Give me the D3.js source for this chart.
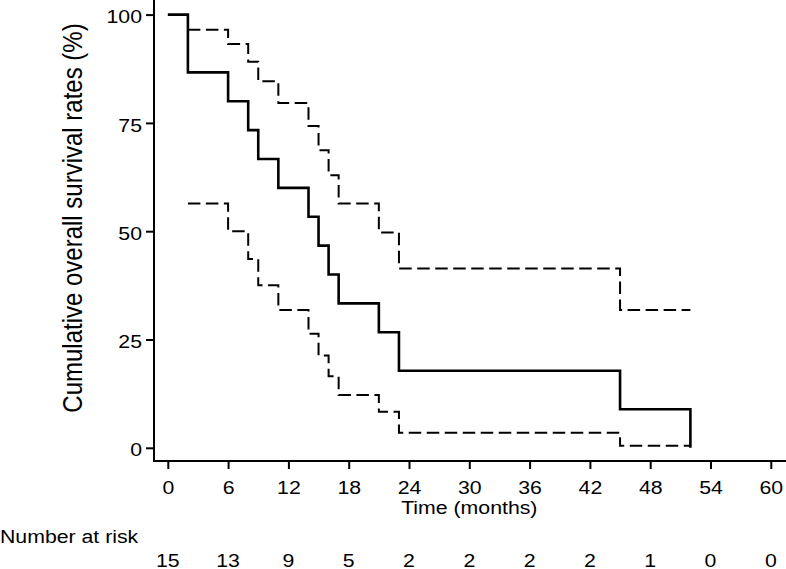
<!DOCTYPE html>
<html>
<head>
<meta charset="utf-8">
<script src="https://cdn.jsdelivr.net/npm/d3@7"></script>
<style>
  html, body { margin: 0; padding: 0; background: #fff; }
  svg { display: block; }
  text { font-family: "Liberation Sans", Arial, Helvetica, sans-serif; fill: #000; }
</style>
</head>
<body>
<svg id="chart" width="786" height="569"></svg>
<script>
// ---- data ----
const kmTimes    = [0, 2, 6, 8, 9, 11, 14, 15, 16, 17, 21, 23, 45, 52];
const kmSurvival = [100, 86.67, 80, 73.33, 66.67, 60, 53.33, 46.67, 40, 33.33, 26.67, 17.78, 8.89, 0];

const ciTimes = [2, 6, 8, 9, 11, 14, 15, 16, 17, 21, 23, 45, 52];
const ciUpper = [96.5, 93.2, 89.1, 84.6, 79.6, 74.3, 68.7, 62.9, 56.4, 49.7, 41.4, 31.8, 31.8];
const ciLower = [56.4, 50.0, 43.6, 37.5, 31.8, 26.3, 21.3, 16.5, 12.2, 8.3, 3.5, 0.5, 0.5];

const xTicks = [0, 6, 12, 18, 24, 30, 36, 42, 48, 54, 60];
const yTicks = [0, 25, 50, 75, 100];
const atRisk = [15, 13, 9, 5, 2, 2, 2, 2, 1, 0, 0];

const yTitle = "Cumulative overall survival rates (%)";
const xTitle = "Time (months)";
const riskTitle = "Number at risk";

// ---- layout ----
const svg = d3.select("#chart");
const SX = 1.12; // horizontal text stretch seen in the reference
const x = d3.scaleLinear().domain([0, 60]).range([167.8, 770.8]);
const y = d3.scaleLinear().domain([0, 100]).range([447.8, 14.6]);
const axisX0 = 154, axisY0 = 461;

// axis lines
svg.append("line").attr("x1", axisX0).attr("x2", axisX0).attr("y1", 0).attr("y2", axisY0 + 1)
  .attr("stroke", "#000").attr("stroke-width", 2);
svg.append("line").attr("x1", axisX0 - 1).attr("x2", 786).attr("y1", axisY0).attr("y2", axisY0)
  .attr("stroke", "#000").attr("stroke-width", 2);

// x axis ticks
const xAxis = d3.axisBottom(x).tickValues(xTicks).tickSize(8).tickPadding(0).tickSizeOuter(0);
const gx = svg.append("g").attr("transform", `translate(0,${axisY0})`).call(xAxis);
gx.select(".domain").remove();
gx.selectAll(".tick line").attr("stroke", "#000").attr("stroke-width", 2);
gx.selectAll(".tick text")
  .attr("y", 33).attr("dy", null)
  .attr("transform", `scale(${SX},1)`)
  .style("font-size", "19px").style("font-family", '"Liberation Sans", Arial, sans-serif')
  .attr("fill", "#000");

// y axis ticks
const yAxis = d3.axisLeft(y).tickValues(yTicks).tickSize(8).tickPadding(0).tickSizeOuter(0);
const gy = svg.append("g").attr("transform", `translate(${axisX0},0)`).call(yAxis);
gy.select(".domain").remove();
gy.selectAll(".tick line").attr("stroke", "#000").attr("stroke-width", 2);
gy.selectAll(".tick text")
  .attr("x", -12 / SX).attr("dy", "0.43em")
  .attr("transform", `scale(${SX},1)`)
  .style("font-size", "19px").style("font-family", '"Liberation Sans", Arial, sans-serif')
  .attr("fill", "#000");

// curves
const stepLine = d3.line().curve(d3.curveStepAfter).x(d => x(d[0])).y(d => y(d[1]));

svg.append("path")
  .datum(ciTimes.map((t, i) => [t, ciUpper[i]]))
  .attr("d", stepLine).attr("fill", "none").attr("stroke", "#000")
  .attr("stroke-width", 2).attr("stroke-dasharray", "12.5,5.5");
svg.append("path")
  .datum(ciTimes.map((t, i) => [t, ciLower[i]]))
  .attr("d", stepLine).attr("fill", "none").attr("stroke", "#000")
  .attr("stroke-width", 2).attr("stroke-dasharray", "12.5,5.5");
svg.append("path")
  .datum(kmTimes.map((t, i) => [t, kmSurvival[i]]))
  .attr("d", stepLine).attr("fill", "none").attr("stroke", "#000")
  .attr("stroke-width", 2.6).attr("stroke-linejoin", "miter");

// titles
svg.append("text")
  .attr("transform", `translate(82,218) scale(${SX},1) rotate(-90)`)
  .attr("text-anchor", "middle").style("font-size", "24px").text(yTitle);

svg.append("text")
  .attr("transform", `translate(${x(30)},514) scale(${SX},1)`)
  .attr("text-anchor", "middle").style("font-size", "19px").text(xTitle);

svg.append("text")
  .attr("transform", `translate(0,542.7) scale(${SX},1)`)
  .attr("text-anchor", "start").style("font-size", "19px").text(riskTitle);

// number at risk
svg.append("g").selectAll("text").data(xTicks).join("text")
  .attr("transform", (d) => `translate(${x(d)},566.7) scale(${SX},1)`)
  .attr("text-anchor", "middle").style("font-size", "19px")
  .text((d, i) => atRisk[i]);
</script>
</body>
</html>
